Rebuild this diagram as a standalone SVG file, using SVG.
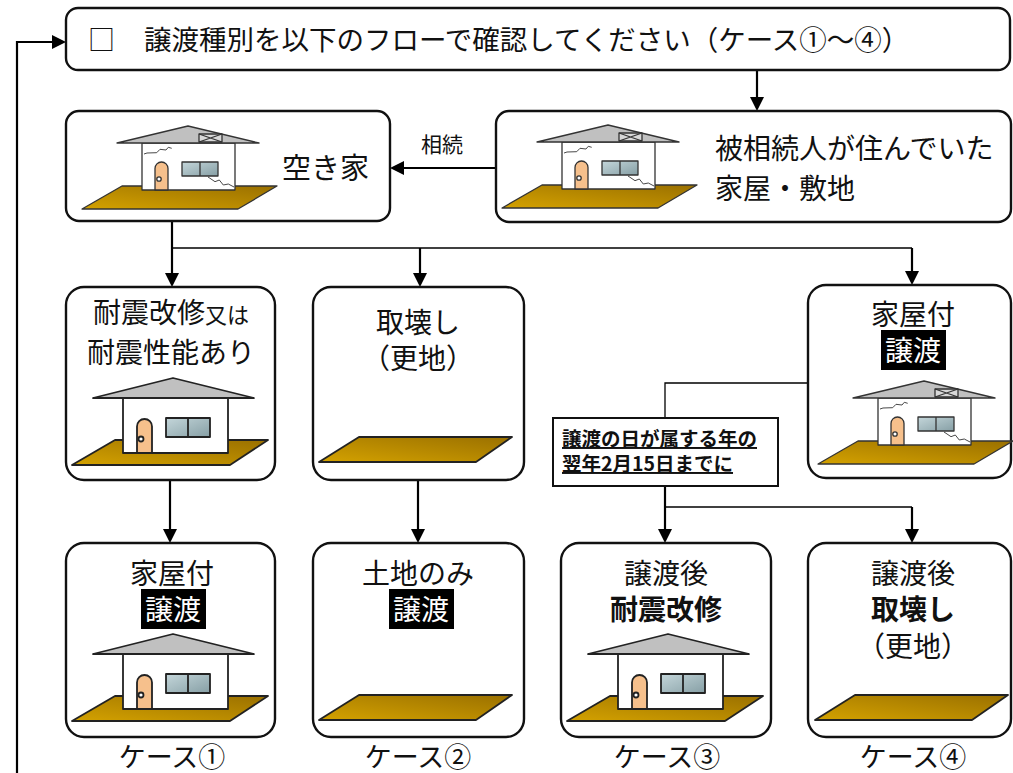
<svg xmlns="http://www.w3.org/2000/svg" width="1013" height="773" viewBox="0 0 1013 773">
<style>
.box{fill:#fff;stroke:#111;stroke-width:2.4}
.t{font-family:"Noto Sans CJK JP","Noto Sans CJK SC",sans-serif;fill:#111}
.w{font-family:"Noto Sans CJK JP","Noto Sans CJK SC",sans-serif;fill:#fff}
.b{font-weight:bold}
.lk{stroke:#000;fill:none;stroke-width:2.2}
.ln{stroke:#000;fill:none;stroke-width:1.3}
.hs{stroke:#222;stroke-width:1.8;stroke-linejoin:round}
.hs2{stroke:#333;stroke-width:1.3;stroke-linejoin:round}
</style>
<defs>
<linearGradient id="gold" x1="0" y1="1" x2="1" y2="0">
<stop offset="0" stop-color="#d4a200"/><stop offset="1" stop-color="#9a7000"/>
</linearGradient>
<linearGradient id="glass" x1="0" y1="0" x2="1" y2="1">
<stop offset="0" stop-color="#c4d6da"/><stop offset="1" stop-color="#869fa5"/>
</linearGradient>
<marker id="ah" viewBox="0 0 14 14" refX="11" refY="7" markerWidth="14" markerHeight="14" markerUnits="userSpaceOnUse" orient="auto">
<path d="M0,0 L14,7 L0,14 z" fill="#000"/>
</marker>
<g id="oldHouse">
<polygon class="hs2" fill="url(#gold)" points="0,83 40,60 195,60 156,83"/>
<rect class="hs2" fill="#fff" x="60" y="17" width="93" height="47"/>
<polygon class="hs2" fill="#c0c0c0" points="35,17 106,0 177,17"/>
<rect class="hs2" fill="#d8d8d8" x="117" y="8" width="23" height="8"/>
<path class="hs2" fill="none" d="M117,8 L140,16 M117,16 L140,8"/>
<path class="hs2" fill="#f6c08c" d="M73,64 V42.5 A6.5,6.5 0 0 1 86,42.5 V64 Z"/>
<circle class="hs2" fill="#fff" cx="77" cy="53" r="2.2"/>
<rect class="hs2" fill="url(#glass)" x="100" y="36" width="36" height="14"/>
<path class="hs2" fill="none" d="M118,36 V50"/>
<polyline fill="none" stroke="#333" stroke-width="0.9" points="62,28 65,27 74.7,26.7 78,23.3 84,24 86.3,21.3 89.7,22.3"/>
<polyline fill="none" stroke="#333" stroke-width="0.9" points="126,51 128,52.3 133,55.7 137.3,54 141.3,59 146.3,58 152,61"/>
</g>
<g id="newHouse">
<polygon class="hs" fill="url(#gold)" points="0,87 43,62 196,62 158,87"/>
<rect class="hs" fill="#fff" x="51" y="20" width="105" height="55"/>
<polygon class="hs" fill="#c0c0c0" points="21,20 101,0 182,20"/>
<path class="hs" fill="#f6c08c" d="M65,75 V48.5 A7.5,7.5 0 0 1 80,48.5 V75 Z"/>
<circle class="hs" fill="#fff" cx="69" cy="61" r="2.5"/>
<rect class="hs" fill="url(#glass)" x="94" y="40" width="44" height="19"/>
<path class="hs" fill="none" d="M116,40 V59"/>
</g>
<g id="land">
<polygon class="hs" fill="url(#gold)" points="0,25 40,0 193,0 157,25"/>
</g>
</defs>

<g id="connectors">
<path class="lk" d="M757,70 V108" marker-end="url(#ah)"/>
<path class="lk" d="M496,168 H393" marker-end="url(#ah)"/>
<path class="lk" d="M172,221 V248"/>
<path class="ln" d="M172,248 H912"/>
<path class="lk" d="M172,248 V284" marker-end="url(#ah)"/>
<path class="lk" d="M420,248 V284" marker-end="url(#ah)"/>
<path class="lk" d="M912,248 V282" marker-end="url(#ah)"/>
<path class="lk" d="M170,480 V540" marker-end="url(#ah)"/>
<path class="lk" d="M418,480 V540" marker-end="url(#ah)"/>
<path class="ln" d="M808,383 H665 V418"/>
<path class="lk" d="M665,486 V540" marker-end="url(#ah)"/>
<path class="ln" d="M665,507 H912"/>
<path class="lk" d="M912,507 V540" marker-end="url(#ah)"/>
<path class="lk" d="M17,773 V42 H63" marker-end="url(#ah)"/>
<text class="t" x="442" y="152" font-size="21" text-anchor="middle">相続</text>
</g>

<g id="title">
<rect class="box" x="66" y="8" width="944" height="62" rx="12"/>
<text class="t" x="88" y="50" font-size="27" fill="#555">□</text>
<text class="t" x="144" y="50" font-size="27.5">譲渡種別を以下のフローで確認してください（ケース①～④）</text>
</g>

<g id="akiya">
<rect class="box" x="66" y="111" width="324" height="110" rx="13"/>
<use href="#oldHouse" x="82" y="126"/>
<text class="t" x="282" y="179" font-size="29">空き家</text>
</g>

<g id="hisouzoku">
<rect class="box" x="496" y="111" width="515" height="111" rx="13"/>
<use href="#oldHouse" x="502" y="125"/>
<text class="t" x="715" y="159" font-size="28">被相続人が住んでいた</text>
<text class="t" x="715" y="199" font-size="28">家屋・敷地</text>
</g>

<g id="taishin">
<rect class="box" x="66" y="287" width="209" height="193" rx="18"/>
<text class="t" x="171" y="323" font-size="28" text-anchor="middle">耐震改修<tspan font-size="22">又は</tspan></text>
<text class="t" x="171" y="363" font-size="28" text-anchor="middle">耐震性能あり</text>
<use href="#newHouse" x="72" y="378"/>
</g>

<g id="torikowashi">
<rect class="box" x="313" y="287" width="211" height="193" rx="18"/>
<text class="t" x="418" y="333" font-size="28" text-anchor="middle">取壊し</text>
<text class="t" x="418" y="369" font-size="28" text-anchor="middle">（更地）</text>
<use href="#land" x="319" y="437"/>
</g>

<g id="kaokutsuki">
<rect class="box" x="808" y="285" width="203" height="193" rx="18"/>
<text class="t" x="913" y="325" font-size="28" text-anchor="middle">家屋付</text>
<rect x="881" y="330" width="65" height="40" fill="#000"/>
<text class="w" x="913" y="361" font-size="28" text-anchor="middle">譲渡</text>
<use href="#oldHouse" x="818" y="381"/>
</g>

<g id="kigen">
<rect x="553" y="418" width="225" height="68" fill="#fff" stroke="#111" stroke-width="2"/>
<text class="t b" x="562" y="446" font-size="19.5" text-decoration="underline">譲渡の日が属する年の</text>
<text class="t b" x="562" y="471" font-size="19.5" text-decoration="underline">翌年2月15日までに</text>
</g>

<g id="case1">
<rect class="box" x="66" y="543" width="209" height="194" rx="18"/>
<text class="t" x="172" y="584" font-size="28" text-anchor="middle">家屋付</text>
<rect x="141" y="589" width="65" height="40" fill="#000"/>
<text class="w" x="173" y="620" font-size="28" text-anchor="middle">譲渡</text>
<use href="#newHouse" x="72" y="634"/>
</g>

<g id="case2">
<rect class="box" x="313" y="543" width="211" height="194" rx="18"/>
<text class="t" x="418" y="584" font-size="28" text-anchor="middle">土地のみ</text>
<rect x="389" y="589" width="65" height="40" fill="#000"/>
<text class="w" x="421" y="620" font-size="28" text-anchor="middle">譲渡</text>
<use href="#land" x="319" y="695"/>
</g>

<g id="case3">
<rect class="box" x="561" y="543" width="210" height="194" rx="18"/>
<text class="t" x="666" y="584" font-size="28" text-anchor="middle">譲渡後</text>
<text class="t b" x="666" y="620" font-size="28" text-anchor="middle">耐震改修</text>
<use href="#newHouse" x="567" y="634"/>
</g>

<g id="case4">
<rect class="box" x="808" y="543" width="203" height="194" rx="18"/>
<text class="t" x="913" y="584" font-size="28" text-anchor="middle">譲渡後</text>
<text class="t b" x="913" y="620" font-size="28" text-anchor="middle">取壊し</text>
<text class="t" x="913" y="657" font-size="28" text-anchor="middle">（更地）</text>
<use href="#land" x="815" y="695"/>
</g>

<g id="caselabels">
<text class="t" x="172" y="767" font-size="27" text-anchor="middle">ケース①</text>
<text class="t" x="418" y="767" font-size="27" text-anchor="middle">ケース②</text>
<text class="t" x="667" y="767" font-size="27" text-anchor="middle">ケース③</text>
<text class="t" x="913" y="767" font-size="27" text-anchor="middle">ケース④</text>
</g>
</svg>
